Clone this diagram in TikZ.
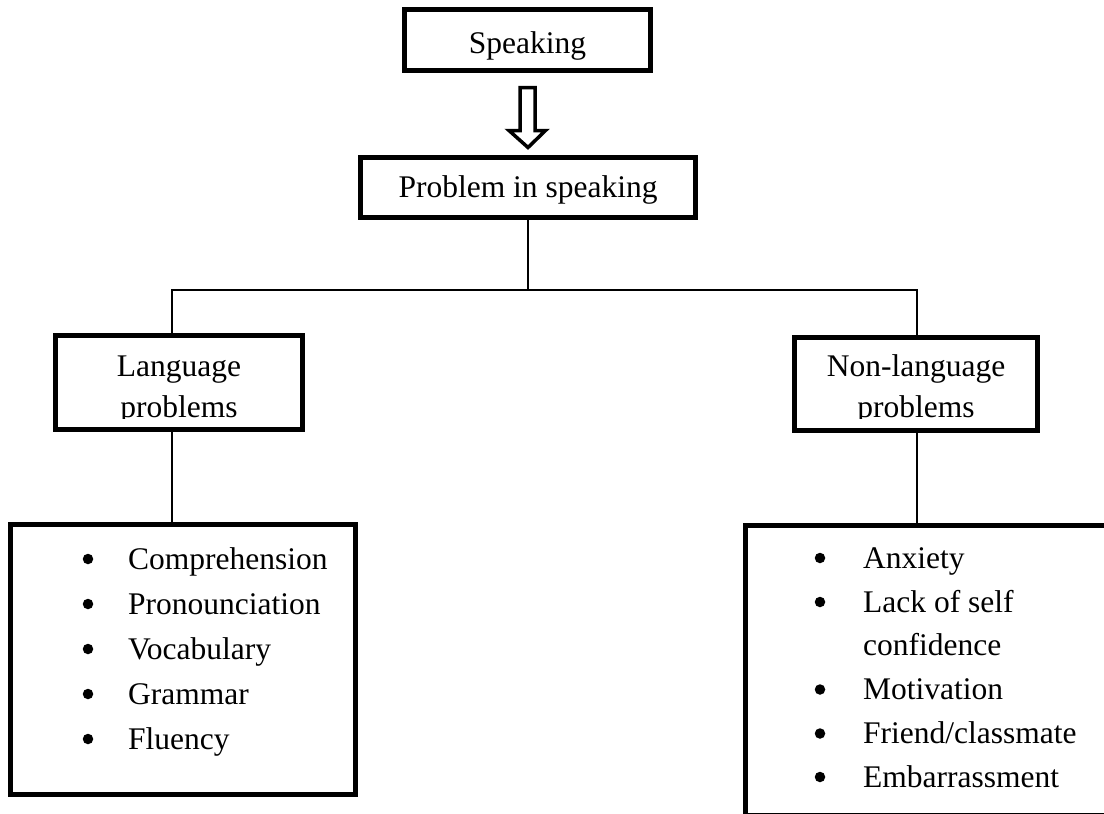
\documentclass[tikz,border=0pt]{standalone}
\usepackage{fontspec}
\setmainfont{Liberation Serif}
\usetikzlibrary{calc}
\begin{document}
\begin{tikzpicture}[x=1pt,y=-1pt,
  font=\fontsize{31.5}{40}\selectfont,
  box/.style={draw, line width=5pt, inner sep=0pt},
  conn/.style={line width=2pt},
  txt/.style={anchor=base, inner sep=0pt},
  item/.style={anchor=base west, inner sep=0pt},
  bul/.style={circle, fill, inner sep=0pt, minimum size=10.5pt},
  blockarrow/.style={draw, line width=3.5pt, fill=white, line join=miter}]
\useasboundingbox (0,0) rectangle (1104,814);
% boxes
\node[box, minimum width=246pt, minimum height=61pt] (sp) at (527.5,40) {};
\node[box, minimum width=335pt, minimum height=60pt] (prob) at (528,187.5) {};
\node[box, minimum width=247pt, minimum height=94pt] (lang) at (179,382.5) {};
\node[box, minimum width=243pt, minimum height=93pt] (nonlang) at (916,384) {};
\node[box, minimum width=345pt, minimum height=270pt] (llist) at (183,659.5) {};
\node[box, minimum width=384.5pt, minimum height=290pt] (rlist) at (937.75,670.5) {};
% texts
\node[txt] (tsp) at (527.5,53) {Speaking};
\node[txt] (tprob) at (528,197) {Problem in speaking};
\begin{scope}
\clip (40,330) rectangle (1060,418.5);
\node[txt] (tlang1) at (179,376) {Language};
\node[txt] (tlang2) at (179,417) {problems};
\node[txt] (tnon1) at (916,376) {Non-language};
\node[txt] (tnon2) at (916,417) {problems};
\end{scope}
% block arrow
\draw[blockarrow] ($(sp.south)+(-7.5,14.5)$) -- ++(15,0) -- ++(0,43)
  -- ++(10.5,0) -- ($(prob.north)+(0,-7.5)$) -- ($(sp.south)+(-18.5,57.5)$)
  -- ++(11,0) -- cycle;
% connectors
\coordinate (jc) at (528,290);
\coordinate (jl) at (172,290);
\coordinate (jr) at (917,290);
\draw[conn] (prob.south) -- (jc);
\draw[conn] (lang.north -| jl) -- (jl) -- (jr) -- (nonlang.north -| jr);
\draw[conn] (lang.south -| jl) -- (llist.north -| jl);
\draw[conn] (nonlang.south -| jr) -- (rlist.north -| jr);
% left list
\foreach \t/\y [count=\i] in {Comprehension/569, Pronounciation/614, Vocabulary/659, Grammar/704, Fluency/749}{
  \node[bul] (lb\i) at (88,\y-10) {};
  \node[item] (li\i) at (128,\y) {\t};
}
% right list
\foreach \t/\y [count=\i] in {Anxiety/568, Lack of self/612, Motivation/699.5, {Friend/classmate}/743.5, Embarrassment/787}{
  \node[bul] (rb\i) at (820,\y-10) {};
  \node[item] (ri\i) at (863,\y) {\t};
}
\node[item] (ri6) at (863,655.5) {confidence};
\end{tikzpicture}
\end{document}
